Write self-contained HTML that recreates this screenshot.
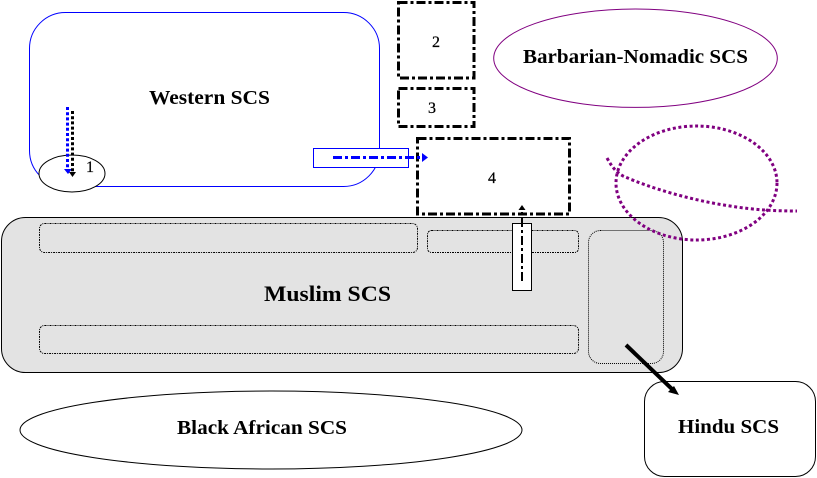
<!DOCTYPE html>
<html>
<head>
<meta charset="utf-8">
<style>
html,body{margin:0;padding:0;background:#fff;}
svg{display:block;}
text{font-family:"Liberation Serif",serif;font-weight:bold;fill:#000;}
.n{font-size:16px;font-weight:normal;stroke:#000;stroke-width:0.25px;}
</style>
</head>
<body>
<svg width="817" height="478" viewBox="0 0 817 478" xmlns="http://www.w3.org/2000/svg">
<rect width="817" height="478" fill="#fff"/>

<rect x="29.5" y="12.5" width="350" height="174" rx="36" fill="#fff" stroke="#0000ff" stroke-width="1"/>
<text x="149" y="104" font-size="20" textLength="121" lengthAdjust="spacingAndGlyphs">Western SCS</text>

<ellipse cx="72" cy="173.5" rx="33" ry="18.5" fill="#fff" stroke="#000" stroke-width="1"/>
<text x="86" y="172" class="n">1</text>
<line x1="67.5" y1="107" x2="67.5" y2="170" stroke="#0000ff" stroke-width="3" stroke-dasharray="3 2.2"/>
<path d="M64 169 L72 169 L68 174 Z" fill="#0000ff"/>
<line x1="72.5" y1="111" x2="72.5" y2="172" stroke="#000" stroke-width="3" stroke-dasharray="3 2.2"/>
<path d="M69 172 L76 172 L72.5 177 Z" fill="#000"/>

<rect x="398.5" y="2.5" width="75.5" height="75.5" fill="#fff" stroke="#000" stroke-width="3" stroke-dasharray="9 3 3 3"/>
<text x="432" y="47" class="n">2</text>
<rect x="398.5" y="88.5" width="75.5" height="38" fill="#fff" stroke="#000" stroke-width="3" stroke-dasharray="9 3 3 3"/>
<text x="428" y="113" class="n">3</text>
<rect x="417.5" y="138.5" width="152" height="75.5" fill="#fff" stroke="#000" stroke-width="3" stroke-dasharray="9 3 3 3"/>
<text x="488" y="183" class="n">4</text>

<ellipse cx="635.5" cy="58.2" rx="141.8" ry="49.2" fill="#fff" stroke="#800080" stroke-width="1"/>
<text x="523" y="63" font-size="20" textLength="225" lengthAdjust="spacingAndGlyphs">Barbarian-Nomadic SCS</text>

<rect x="1.5" y="217.5" width="681" height="155" rx="24" fill="#e3e3e3" stroke="#000" stroke-width="1"/>
<rect x="39.5" y="223.5" width="378" height="29" rx="5" fill="none" stroke="#000" stroke-width="1" stroke-dasharray="2 1 1 1"/>
<rect x="427.5" y="230.5" width="151" height="22" rx="4" fill="none" stroke="#000" stroke-width="1" stroke-dasharray="2 1 1 1"/>
<rect x="39.5" y="325.5" width="539" height="28" rx="5" fill="none" stroke="#000" stroke-width="1" stroke-dasharray="2 1 1 1"/>
<rect x="588.5" y="230.5" width="75" height="133" rx="12" fill="none" stroke="#000" stroke-width="1" stroke-dasharray="1 1"/>
<text x="264" y="301" font-size="22" textLength="127" lengthAdjust="spacingAndGlyphs">Muslim SCS</text>

<ellipse cx="696.5" cy="183" rx="80.5" ry="57" fill="none" stroke="#800080" stroke-width="3" stroke-dasharray="3 2.6"/>
<path d="M607 158 C612 167 616 172 623 176 C650 188 690 200 730 206 C755 210 775 211 797 211" fill="none" stroke="#800080" stroke-width="3" stroke-dasharray="3 2.6"/>

<rect x="313.5" y="148.5" width="95" height="19" fill="#fff" stroke="#0000ff" stroke-width="1"/>
<line x1="333" y1="157.5" x2="422" y2="157.5" stroke="#0000ff" stroke-width="3" stroke-dasharray="9 3 3 3"/>
<path d="M422 153 L428 157.5 L422 162 Z" fill="#0000ff"/>

<rect x="512.5" y="223.5" width="19" height="67" fill="#fff" stroke="#000" stroke-width="1"/>
<line x1="522" y1="281" x2="522" y2="209" stroke="#000" stroke-width="2" stroke-dasharray="9 3 3 3"/>
<path d="M518.5 210 L522 205 L525.5 210 Z" fill="#000"/>

<ellipse cx="271" cy="430" rx="251" ry="39" fill="#fff" stroke="#000" stroke-width="1"/>
<text x="177" y="434" font-size="20" textLength="170" lengthAdjust="spacingAndGlyphs">Black African SCS</text>

<rect x="644.5" y="381.5" width="171" height="95" rx="20" fill="#fff" stroke="#000" stroke-width="1"/>
<text x="678" y="433" font-size="20" textLength="101" lengthAdjust="spacingAndGlyphs">Hindu SCS</text>

<line x1="626" y1="345" x2="673" y2="390" stroke="#000" stroke-width="4"/>
<path d="M668 392 L674 386 L679 395 Z" fill="#000"/>
</svg>
</body>
</html>
